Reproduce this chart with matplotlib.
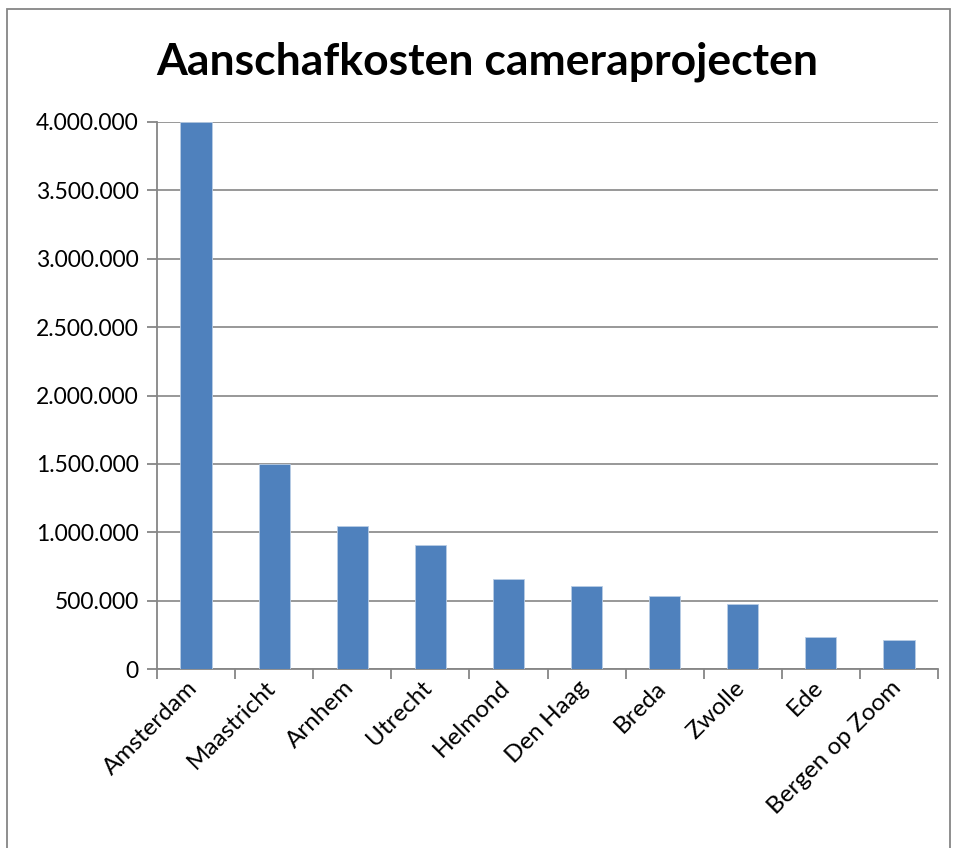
import matplotlib
matplotlib.use("Agg")
import matplotlib.pyplot as plt
import matplotlib.transforms as mtransforms
from matplotlib.ticker import FuncFormatter, MultipleLocator, FixedLocator
from matplotlib.patches import Rectangle

plt.rcParams["font.family"] = ["Lato", "DejaVu Sans"]

steden = ["Amsterdam", "Maastricht", "Arnhem", "Utrecht", "Helmond",
          "Den Haag", "Breda", "Zwolle", "Ede", "Bergen op Zoom"]
kosten = [4000000, 1500000, 1045000, 905000, 655000,
          605000, 535000, 475000, 235000, 212000]

GRAY = "#868686"

fig = plt.figure(figsize=(9.55, 8.48), dpi=100)
# chart border like an Excel chart area
fig.patches.append(Rectangle((7 / 955, -0.01), 943 / 955, 1 - 9 / 848 + 0.01,
                             transform=fig.transFigure, fill=False,
                             edgecolor=GRAY, linewidth=1.3))

ax = fig.add_axes([157 / 955, 1 - 669 / 848, 781 / 955, 547 / 848])
x = list(range(len(steden)))
ax.bar(x, kosten, width=0.4, color="#4F81BD", edgecolor="#B9CDE5",
       linewidth=0.6, zorder=3)

ax.set_xlim(-0.5, len(steden) - 0.5)
ax.set_ylim(0, 4000000)
ax.yaxis.set_major_locator(MultipleLocator(500000))
ax.yaxis.set_major_formatter(FuncFormatter(lambda v, _: f"{int(v):,}".replace(",", ".")))
ax.grid(axis="y", color=GRAY, linewidth=1.2, zorder=0)

# category boundary ticks; labels placed at the centres below
ax.xaxis.set_major_locator(FixedLocator([i - 0.5 for i in range(len(steden) + 1)]))
ax.xaxis.set_major_formatter(FuncFormatter(lambda v, _: ""))
ax.tick_params(axis="x", which="major", length=7, width=1.3, color=GRAY)
ax.tick_params(axis="y", length=7, width=1.3, color=GRAY, labelsize=16.5, pad=6)

lbl_tf = ax.get_xaxis_transform() + mtransforms.ScaledTranslation(-0.09, -0.08, fig.dpi_scale_trans)
for xi, naam in zip(x, steden):
    ax.text(xi, 0, naam, transform=lbl_tf, rotation=45, ha="right", va="top",
            rotation_mode="anchor", fontsize=17.5)

for side in ["top", "right"]:
    ax.spines[side].set_visible(False)
for side in ["left", "bottom"]:
    ax.spines[side].set_color(GRAY)
    ax.spines[side].set_linewidth(1.3)

fig.text(487 / 955, 1 - 62 / 848, "Aanschafkosten cameraprojecten",
         ha="center", va="center", fontsize=32, fontweight="bold")

fig.savefig("out.png", dpi=100)
